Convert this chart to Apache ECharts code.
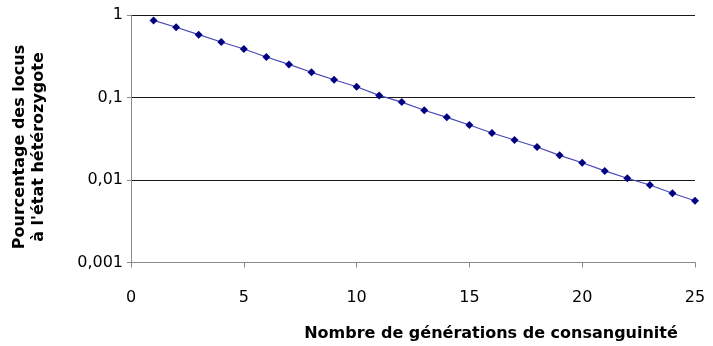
<!DOCTYPE html>
<html>
<head>
<meta charset="utf-8">
<script src="https://cdn.jsdelivr.net/npm/echarts@6/dist/echarts.min.js"></script>
<style>html,body{margin:0;padding:0;background:#fff}#c{width:713px;height:346px}</style>
</head>
<body>
<div id="c"></div>
<script>
const generations = [1,2,3,4,5,6,7,8,9,10,11,12,13,14,15,16,17,18,19,20,21,22,23,24,25];
const heterozygosity = [0.86,0.71,0.578,0.471,0.387,0.31,0.252,0.202,0.164,0.135,0.106,0.088,0.070,0.0575,0.0464,0.0371,0.0305,0.0251,0.0199,0.0162,0.0129,0.0105,0.0087,0.0069,0.0056];
const xTitle = 'Nombre de générations de consanguinité';
const yTitleLines = ['Pourcentage des locus', "à l'état hétérozygote"];

const chart = echarts.init(document.getElementById('c'), null, {renderer:'canvas'});
const fmtY = v => String(Number(Number(v).toPrecision(1))).replace('.', ',');
chart.setOption({
  animation:false,
  grid:{left:131, right:18, top:15, bottom:83.5, containLabel:false},
  xAxis:{
    type:'value', min:0, max:25, interval:5,
    axisLine:{show:true, lineStyle:{color:'#8a8a8a', width:1}},
    axisTick:{show:true, length:5, lineStyle:{color:'#8a8a8a'}},
    axisLabel:{margin:27, color:'#000', fontFamily:'DejaVu Sans', fontSize:16},
    splitLine:{show:false}
  },
  yAxis:{
    type:'log', logBase:10, min:0.001, max:1,
    axisLine:{show:true, onZero:false, lineStyle:{color:'#8a8a8a', width:1}},
    axisTick:{show:true, length:4, lineStyle:{color:'#8a8a8a'}},
    axisLabel:{margin:8, color:'#000', fontFamily:'DejaVu Sans', fontSize:16, formatter:fmtY},
    splitLine:{show:true, lineStyle:{color:'#1a1a1a', width:1}}
  },
  graphic:[
    {type:'text', x:491, y:334, style:{text:xTitle, font:'bold 16px "DejaVu Sans"', fill:'#000', textAlign:'center', textVerticalAlign:'middle'}},
    {type:'text', rotation:Math.PI/2, x:20, y:147, style:{text:yTitleLines[0], font:'bold 16px "DejaVu Sans"', fill:'#000', textAlign:'center', textVerticalAlign:'middle'}},
    {type:'text', rotation:Math.PI/2, x:39, y:147, style:{text:yTitleLines[1], font:'bold 16px "DejaVu Sans"', fill:'#000', textAlign:'center', textVerticalAlign:'middle'}}
  ],
  series:[{
    type:'line',
    data: generations.map((g,i)=>[g, heterozygosity[i]]),
    symbol:'diamond', symbolSize:8,
    lineStyle:{color:'#4848b8', width:1.2},
    itemStyle:{color:'#000080'},
    z:5
  }]
});
</script>
</body>
</html>
